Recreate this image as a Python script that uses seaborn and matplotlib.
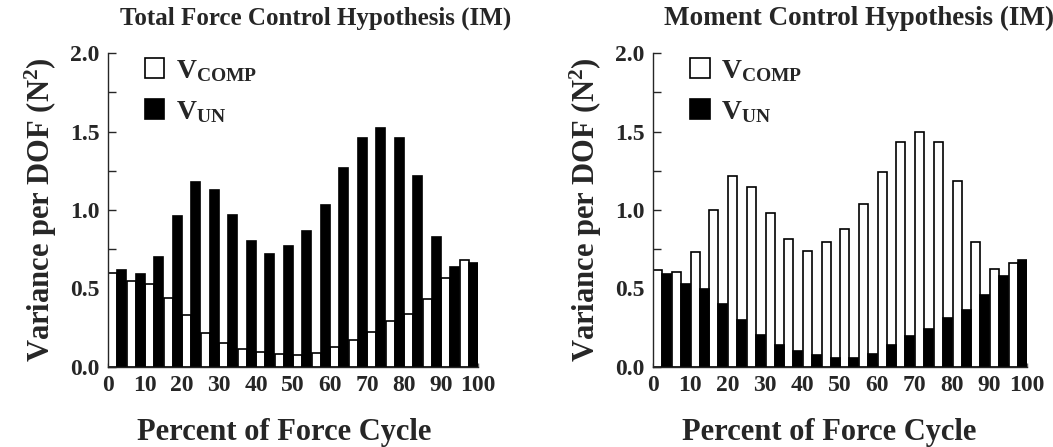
import numpy as np
import pandas as pd
import seaborn as sns
import matplotlib.pyplot as plt
from matplotlib.ticker import MultipleLocator

# bin centres (percent of force cycle)
cycle = [2.5, 7.5, 12.5, 17.5, 22.5, 27.5, 32.5, 37.5, 42.5, 47.5,
         52.5, 57.5, 62.5, 67.5, 72.5, 77.5, 82.5, 87.5, 92.5, 97.5]

# Total force control hypothesis
tf_comp = [0.60, 0.55, 0.53, 0.44, 0.33, 0.215, 0.15, 0.115, 0.095, 0.08,
           0.075, 0.09, 0.125, 0.17, 0.22, 0.29, 0.34, 0.43, 0.57, 0.68]
tf_un = [0.615, 0.595, 0.70, 0.96, 1.18, 1.13, 0.97, 0.80, 0.72, 0.77,
         0.865, 1.03, 1.265, 1.46, 1.525, 1.46, 1.215, 0.825, 0.64, 0.665]

# Moment control hypothesis
mc_comp = [0.615, 0.605, 0.735, 1.0, 1.215, 1.145, 0.98, 0.815, 0.74, 0.795,
           0.88, 1.04, 1.245, 1.43, 1.50, 1.435, 1.185, 0.795, 0.625, 0.665]
mc_un = [0.595, 0.53, 0.495, 0.40, 0.30, 0.205, 0.14, 0.10, 0.075, 0.06,
         0.055, 0.08, 0.14, 0.20, 0.245, 0.31, 0.365, 0.46, 0.58, 0.68]

titles = ["Total Force Control Hypothesis (IM)", "Moment Control Hypothesis (IM)"]
lab_comp = r"V$_\mathrm{COMP}$"
lab_un = r"V$_\mathrm{UN}$"
xticks = [0, 10, 20, 30, 40, 50, 60, 70, 80, 90, 100]

sns.set_style("ticks")
plt.rcParams["font.family"] = ["Liberation Serif", "DejaVu Serif"]
plt.rcParams["font.weight"] = "bold"
plt.rcParams["mathtext.fontset"] = "custom"
plt.rcParams["mathtext.rm"] = "Liberation Serif:bold"
plt.rcParams["mathtext.it"] = "Liberation Serif:bold"
plt.rcParams["mathtext.bf"] = "Liberation Serif:bold"

fig = plt.figure(figsize=(10.53, 4.47), dpi=100)
axes = [fig.add_axes([108 / 1053, 80 / 447, 370 / 1053, 314 / 447]),
        fig.add_axes([653 / 1053, 80 / 447, 374 / 1053, 314 / 447])]

for ax, comp, un, title, tx, tsize, xl in zip(
        axes, [tf_comp, mc_comp], [tf_un, mc_un], titles,
        [316, 859], [18, 19.5], [0.476, 0.47]):
    df = pd.DataFrame({"cycle": cycle * 2,
                       "var": comp + un,
                       "kind": [lab_comp] * len(cycle) + [lab_un] * len(cycle)})
    sns.barplot(data=df, x="cycle", y="var", hue="kind", native_scale=True,
                palette={lab_comp: "white", lab_un: "black"},
                edgecolor="black", linewidth=1.2, width=0.96, ax=ax)
    ax.set_xlim(0, 100)
    ax.set_ylim(0, 2.0)
    ax.set_xticks(xticks)
    ax.xaxis.set_minor_locator(MultipleLocator(5))
    ax.yaxis.set_major_locator(MultipleLocator(0.5))
    ax.yaxis.set_minor_locator(MultipleLocator(0.25))
    ax.yaxis.set_major_formatter(plt.FormatStrFormatter("%.1f"))
    ax.tick_params(axis="both", which="both", direction="in", width=1,
                   labelsize=17, pad=6)
    ax.tick_params(axis="y", which="both", length=6)
    ax.tick_params(axis="x", which="both", length=3, color="0.4")
    for s in ["top", "right"]:
        ax.spines[s].set_visible(False)
    ax.spines["left"].set_linewidth(1)
    ax.spines["bottom"].set_linewidth(1)
    ax.set_xlabel("Percent of Force Cycle", fontsize=22, fontweight="bold")
    ax.xaxis.set_label_coords(xl, -0.163)
    ax.set_ylabel("Variance per DOF (N$^2$)", fontsize=22, fontweight="bold",
                  labelpad=8)
    h, l = ax.get_legend_handles_labels()
    ax.legend(h, l, loc="upper left", bbox_to_anchor=(0.1, 0.985),
              frameon=False, fontsize=20, handlelength=0.7, handleheight=0.7,
              handletextpad=0.4, labelspacing=0.55, borderaxespad=0,
              borderpad=0)
    fig.text(tx / 1053, 1 - 18 / 447, title, ha="center", va="center",
             fontsize=tsize, fontweight="bold")

fig.savefig("out.png", dpi=100)
